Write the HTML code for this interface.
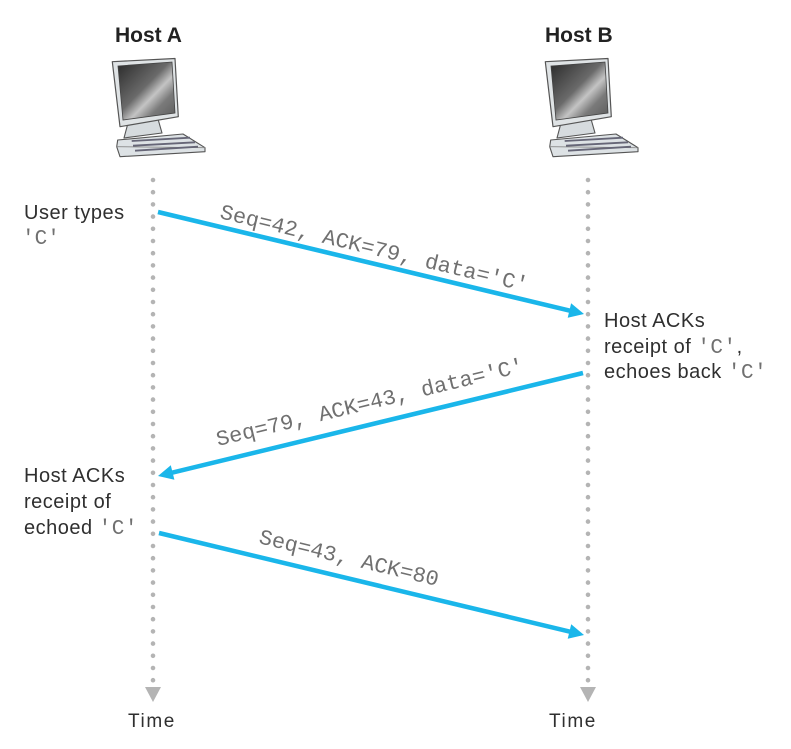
<!DOCTYPE html>
<html>
<head>
<meta charset="utf-8">
<style>
  html, body { margin: 0; padding: 0; background: #ffffff; }
  body { width: 791px; height: 749px; overflow: hidden; }
  svg { display: block; }
  .sans { font-family: "Liberation Sans", Arial, sans-serif; fill: #2f2f2f; }
  .mono { font-family: "Liberation Mono", "Courier New", monospace; fill: #707070; }
</style>
</head>
<body>
<svg width="791" height="749" viewBox="0 0 791 749" xmlns="http://www.w3.org/2000/svg">
  <defs>
    <linearGradient id="scr" x1="0" y1="0" x2="1" y2="1">
      <stop offset="0" stop-color="#2a2a2a"/>
      <stop offset="0.45" stop-color="#6a6a6a"/>
      <stop offset="0.6" stop-color="#c4c4c4"/>
      <stop offset="0.75" stop-color="#7a7a7a"/>
      <stop offset="1" stop-color="#5a5a5a"/>
    </linearGradient>
    <g id="pc">
      <!-- stand -->
      <polygon points="128,123 158,119 162,133 124,138" fill="#d6dbde" stroke="#555" stroke-width="1.1" stroke-linejoin="round"/>
      <!-- keyboard -->
      <polygon points="117.7,140 183,134 205,147.7 205,151.7 120,156.7 116.7,146.7" fill="#dde2e5" stroke="#555" stroke-width="1.1" stroke-linejoin="round"/>
      <polyline points="116.7,146.7 205,147.7" fill="none" stroke="#888" stroke-width="0.8"/>
      <line x1="131.7" y1="141" x2="190" y2="137.7" stroke="#667" stroke-width="1.8"/>
      <line x1="133" y1="145.7" x2="195" y2="142.3" stroke="#667" stroke-width="1.8"/>
      <line x1="135" y1="150.7" x2="198" y2="146.7" stroke="#667" stroke-width="1.8"/>
      <!-- monitor bezel -->
      <polygon points="112.3,61.7 175,58.5 178.3,116.7 120,126.7" fill="#dfe3e5" stroke="#555" stroke-width="1.2" stroke-linejoin="round"/>
      <!-- screen -->
      <polygon points="118,66 172,62 175,113 123,120" fill="url(#scr)" stroke="#444" stroke-width="0.8"/>
    </g>
  </defs>

  <!-- Host labels -->
  <text class="sans" x="115" y="42" font-size="21" font-weight="bold" style="fill:#222">Host A</text>
  <text class="sans" x="545" y="42" font-size="21" font-weight="bold" style="fill:#222">Host B</text>

  <!-- computers -->
  <use href="#pc"/>
  <use href="#pc" transform="translate(433,0)"/>

  <!-- timelines -->
  <line x1="153" y1="180" x2="153" y2="681" stroke="#b4b4b4" stroke-width="4.6" stroke-linecap="round" stroke-dasharray="0 12.2"/>
  <line x1="588" y1="180" x2="588" y2="681" stroke="#b4b4b4" stroke-width="4.6" stroke-linecap="round" stroke-dasharray="0 12.2"/>
  <polygon points="145,687 161,687 153,702" fill="#b4b4b4"/>
  <polygon points="580,687 596,687 588,702" fill="#b4b4b4"/>

  <!-- Time labels -->
  <text class="sans" x="128" y="727" font-size="19" letter-spacing="1.6">Time</text>
  <text class="sans" x="549" y="727" font-size="19" letter-spacing="1.6">Time</text>

  <!-- arrows -->
  <g stroke="#1ab6ea" stroke-width="4.6" fill="none">
    <line x1="158" y1="212" x2="570" y2="310.7"/>
    <line x1="583" y1="373" x2="172" y2="472.7"/>
    <line x1="159" y1="533" x2="570" y2="631.7"/>
  </g>
  <g fill="#1ab6ea">
    <polygon points="584,314 567.7,317.8 571.1,303.2"/>
    <polygon points="158,476 174.4,479.8 170.8,465.2"/>
    <polygon points="584,635 567.7,638.8 571.2,624.2"/>
  </g>

  <!-- arrow labels -->
  <text class="mono" x="219" y="218" font-size="21.5" textLength="316" lengthAdjust="spacingAndGlyphs" transform="rotate(13.47 219 218)">Seq=42, ACK=79, data='C'</text>
  <text class="mono" x="218" y="446" font-size="21.5" textLength="316" lengthAdjust="spacingAndGlyphs" transform="rotate(-13.62 218 446)">Seq=79, ACK=43, data='C'</text>
  <text class="mono" x="258" y="543" font-size="21.5" textLength="184" lengthAdjust="spacingAndGlyphs" transform="rotate(13.5 258 543)">Seq=43, ACK=80</text>

  <!-- left annotations -->
  <text class="sans" x="24" y="219" font-size="20" letter-spacing="0.5">User types</text>
  <text class="mono" x="22" y="244" font-size="21">'C'</text>

  <text class="sans" x="24" y="482" font-size="20" letter-spacing="0.5">Host ACKs</text>
  <text class="sans" x="24" y="508" font-size="20" letter-spacing="0.5">receipt of</text>
  <text class="sans" x="24" y="534" font-size="20" letter-spacing="0.5">echoed <tspan style="font-family:'Liberation Mono',monospace;fill:#707070" font-size="21">'C'</tspan></text>

  <!-- right annotations -->
  <text class="sans" x="604" y="327" font-size="20" letter-spacing="0.5">Host ACKs</text>
  <text class="sans" x="604" y="353" font-size="20" letter-spacing="0.5">receipt of <tspan style="font-family:'Liberation Mono',monospace;fill:#707070" font-size="21">'C'</tspan>,</text>
  <text class="sans" x="604" y="378" font-size="20" letter-spacing="0.5">echoes back <tspan style="font-family:'Liberation Mono',monospace;fill:#707070" font-size="21">'C'</tspan></text>
</svg>
</body>
</html>
